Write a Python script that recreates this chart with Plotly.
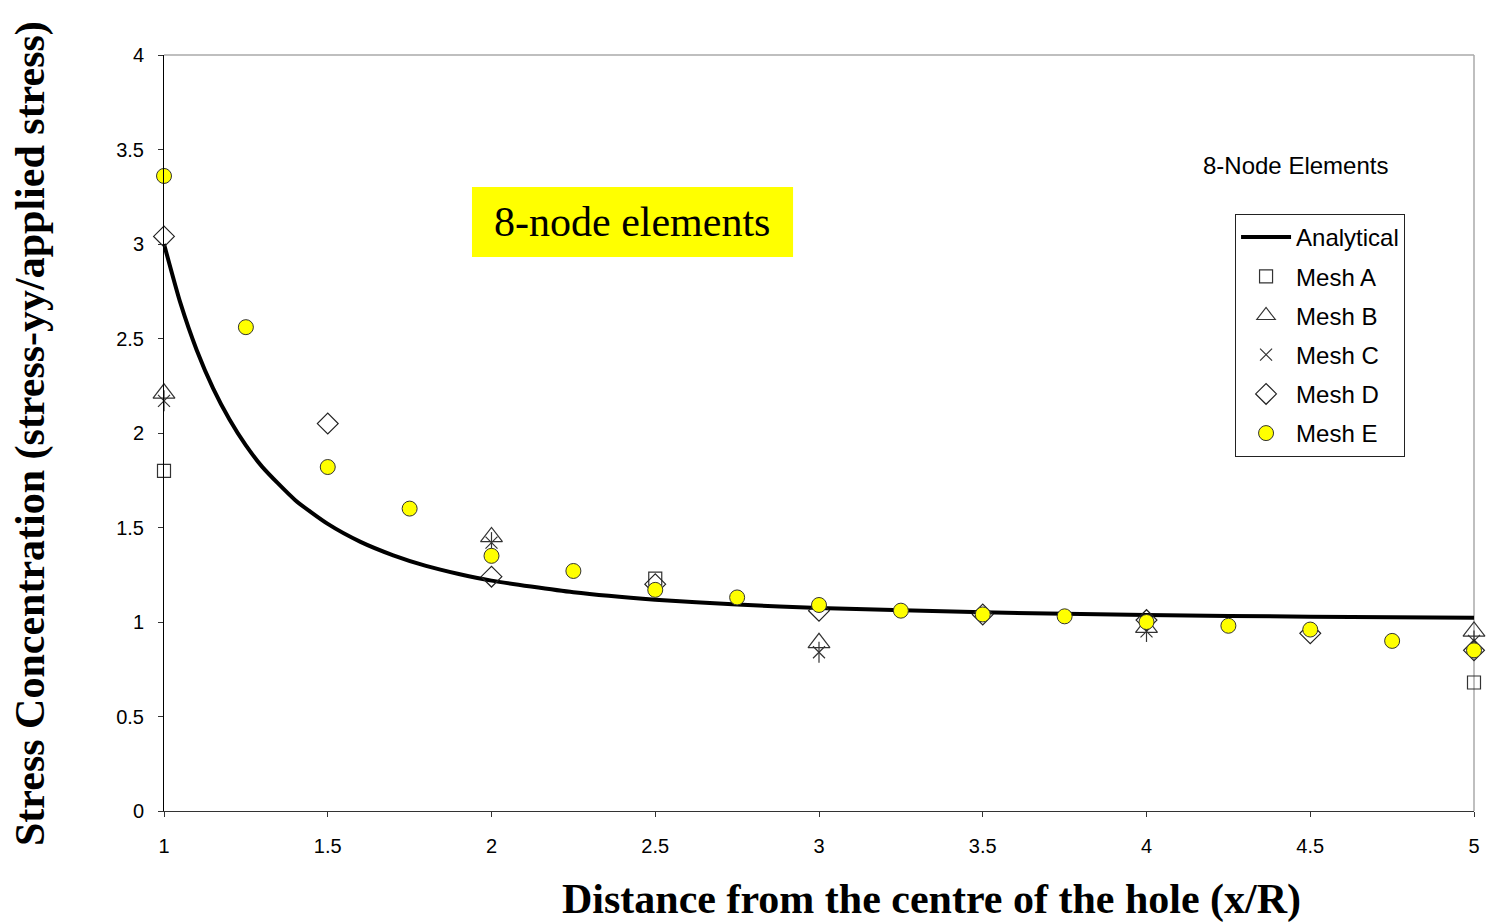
import plotly.graph_objects as go

# Analytical curve
x_an = [1.0, 1.05, 1.1, 1.15, 1.2, 1.25, 1.3, 1.4, 1.5, 1.6, 1.7, 1.8, 1.9, 2.0,
        2.25, 2.5, 2.75, 3.0, 3.5, 4.0, 4.5, 5.0]
y_an = [3.000, 2.688, 2.438, 2.236, 2.071, 1.934, 1.821, 1.646, 1.519, 1.424, 1.353, 1.297,
        1.254, 1.219, 1.157, 1.118, 1.092, 1.074, 1.051, 1.037, 1.028, 1.022]

x_a = [1, 2.5, 5]
y_a = [1.80, 1.23, 0.68]

x_b = [1, 2, 3, 4, 5]
y_b = [2.21, 1.45, 0.89, 0.97, 0.95]

x_c = [1, 2, 3, 4, 5]
y_c = [2.17, 1.42, 0.84, 0.95, 0.90]

x_d = [1, 1.5, 2, 2.5, 3, 3.5, 4, 4.5, 5]
y_d = [3.04, 2.05, 1.24, 1.20, 1.06, 1.04, 1.01, 0.94, 0.85]

x_e = [1, 1.25, 1.5, 1.75, 2, 2.25, 2.5, 2.75, 3, 3.25, 3.5, 3.75, 4, 4.25, 4.5, 4.75, 5]
y_e = [3.36, 2.56, 1.82, 1.60, 1.35, 1.27, 1.17, 1.13, 1.09, 1.06, 1.04, 1.03, 1.00, 0.98, 0.96, 0.90, 0.85]

x_ticks = [1, 1.5, 2, 2.5, 3, 3.5, 4, 4.5, 5]
y_ticks = [0, 0.5, 1, 1.5, 2, 2.5, 3, 3.5, 4]

fig = go.Figure()
fig.add_trace(go.Scatter(x=x_an, y=y_an, mode="lines", name="Analytical",
                         line=dict(color="black", width=4, shape="spline", smoothing=0.6),
                         legendgroup="an"))
fig.add_trace(go.Scatter(x=x_a, y=y_a, mode="markers", name="Mesh A", cliponaxis=False,
                         marker=dict(symbol="square-open", size=13, color="#333",
                                     line=dict(width=1.2)), legendgroup="a"))
fig.add_trace(go.Scatter(x=x_b, y=y_b, mode="markers", name="Mesh B", cliponaxis=False,
                         marker=dict(symbol="triangle-up-open", size=19, color="#333",
                                     line=dict(width=1.2)), legendgroup="b"))
fig.add_trace(go.Scatter(x=x_c, y=y_c, mode="markers", name="Mesh C", cliponaxis=False,
                         marker=dict(symbol="x-thin-open", size=12, color="#333",
                                     line=dict(width=1.2)), legendgroup="c"))
fig.add_trace(go.Scatter(x=x_c, y=y_c, mode="markers", name="Mesh C", cliponaxis=False,
                         showlegend=False,
                         marker=dict(symbol="line-ns-open", size=15, color="#333",
                                     line=dict(width=1.2)), legendgroup="c"))
fig.add_trace(go.Scatter(x=x_d, y=y_d, mode="markers", name="Mesh D", cliponaxis=False,
                         marker=dict(symbol="diamond-open", size=16, color="#222",
                                     line=dict(width=1.2)), legendgroup="d"))
fig.add_trace(go.Scatter(x=x_e, y=y_e, mode="markers", name="Mesh E", cliponaxis=False,
                         marker=dict(symbol="circle", size=15, color="#ffff00",
                                     line=dict(width=1, color="#333")), legendgroup="e"))

fig.update_layout(
    width=1493, height=922,
    margin=dict(l=164, r=19, t=55, b=111),
    paper_bgcolor="white", plot_bgcolor="white",
    font=dict(family="Liberation Sans, Arial", size=20, color="black"),
    showlegend=True,
    legend=dict(x=0.8176, y=0.7897, xanchor="left", yanchor="top",
                bordercolor="#222", borderwidth=1, bgcolor="white",
                font=dict(size=24, family="Liberation Sans, Arial"),
                tracegroupgap=5, itemwidth=50, traceorder="grouped"),
    xaxis=dict(range=[1, 5], tickvals=x_ticks, ticktext=[str(t) for t in x_ticks],
               showgrid=False, zeroline=False, showline=True, linecolor="#333", linewidth=1,
               ticks="outside", ticklen=5, tickcolor="#333", ticklabelstandoff=12,
               tickfont=dict(size=20)),
    yaxis=dict(range=[0, 4], tickvals=y_ticks, ticktext=[str(t) for t in y_ticks],
               showgrid=False, zeroline=False, showline=True, linecolor="black", linewidth=1,
               ticks="outside", ticklen=5, tickcolor="#333", ticklabelstandoff=10,
               tickfont=dict(size=20)),
    shapes=[
        dict(type="line", xref="paper", yref="paper", x0=0, x1=1, y0=1, y1=1,
             line=dict(color="#aaaaaa", width=1.5)),
        dict(type="line", xref="paper", yref="paper", x0=1, x1=1, y0=0, y1=1,
             line=dict(color="#aaaaaa", width=1.5), layer="below"),
        dict(type="rect", xref="paper", yref="paper", x0=0.2351, x1=0.4802,
             y0=0.7328, y1=0.8254, fillcolor="#ffff00", line=dict(width=0)),
    ],
    annotations=[
        dict(text="8-node elements", xref="paper", yref="paper", x=0.3573, y=0.7791,
             xanchor="center", yanchor="middle", showarrow=False,
             font=dict(family="Liberation Serif, Times New Roman", size=42, color="black")),
        dict(text="8-Node Elements", xref="paper", yref="paper", x=0.8634, y=0.8532,
             xanchor="center", yanchor="middle", showarrow=False,
             font=dict(family="Liberation Sans, Arial", size=24)),
        dict(text="<b>Distance from the centre of the hole (x/R)</b>", xref="paper", yref="paper",
             x=0.5855, y=-0.1177, xanchor="center", yanchor="middle", showarrow=False,
             font=dict(family="Liberation Serif, Times New Roman", size=42)),
        dict(text="<b>Stress Concentration (stress-yy/applied stress)</b>", xref="paper",
             yref="paper", x=-0.1023, y=0.5, xanchor="center", yanchor="middle",
             textangle=-90, showarrow=False,
             font=dict(family="Liberation Serif, Times New Roman", size=42)),
    ],
)

fig.write_html("out.html")
